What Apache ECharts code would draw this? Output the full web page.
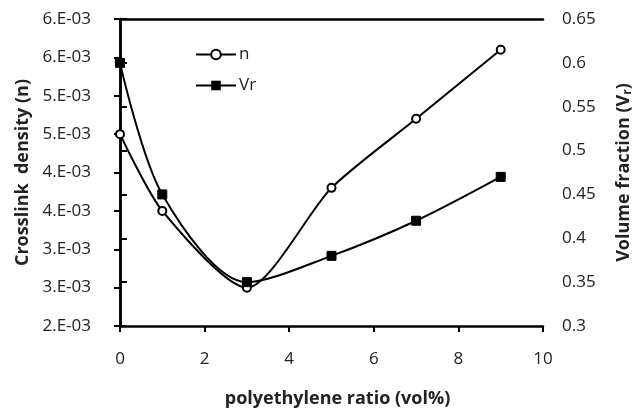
<!DOCTYPE html>
<html>
<head>
<meta charset="utf-8">
<script src="https://cdn.jsdelivr.net/npm/echarts@6/dist/echarts.min.js"></script>
<style>
  html, body { margin: 0; padding: 0; background: #fff; }
  #chart { width: 642px; height: 413px; }
</style>
</head>
<body>
<div id="chart"></div>
<script>
// Polyethylene content (vol%)
const peRatio = [0, 1, 3, 5, 7, 9];
// Crosslink density n (left axis)
const crosslinkDensity = [0.0045, 0.0035, 0.0025, 0.0038, 0.0047, 0.0056];
// Rubber volume fraction Vr (right axis)
const volumeFraction = [0.60, 0.45, 0.35, 0.38, 0.42, 0.47];
// Left axis labels in Excel "0.E+00" style, bottom to top
const densityTickLabels = ['2.E-03', '3.E-03', '3.E-03', '4.E-03', '4.E-03', '5.E-03', '5.E-03', '6.E-03', '6.E-03'];

const FONT = '"Open Sans", "DejaVu Sans", sans-serif';
const INK = '#000';
const TXT = '#222';

const pairs = (xs, ys) => xs.map((x, i) => [x, ys[i]]);

const chart = echarts.init(document.getElementById('chart'), null, { renderer: 'canvas' });

const axisLine = { show: true, lineStyle: { color: INK, width: 2.5 } };

chart.setOption({
  animation: false,
  backgroundColor: '#fff',
  grid: { left: 120, right: 90, top: 19, bottom: 83, containLabel: false },
  legend: {
    orient: 'vertical',
    left: 190,
    top: 41,
    itemWidth: 40,
    itemHeight: 12,
    itemGap: 14,
    textStyle: { fontFamily: FONT, fontSize: 17, color: TXT, padding: [0, 0, 0, -2] },
    data: ['n', 'Vr']
  },
  xAxis: [
    {
      type: 'value',
      min: 0, max: 10, interval: 2,
      position: 'bottom',
      axisLine: axisLine,
      axisTick: { show: true, inside: false, length: 6, lineStyle: { color: INK, width: 2 } },
      axisLabel: { fontFamily: FONT, fontSize: 17, color: TXT, margin: 25 },
      splitLine: { show: false },
      name: 'polyethylene ratio (vol%)',
      nameLocation: 'middle',
      nameGap: 64,
      nameTextStyle: { fontFamily: FONT, fontSize: 18, fontWeight: 'bold', color: TXT, padding: [0, 0, 0, 12] }
    },
    {
      type: 'value',
      min: 0, max: 10,
      position: 'top',
      axisLine: axisLine,
      axisTick: { show: false },
      axisLabel: { show: false },
      splitLine: { show: false }
    }
  ],
  yAxis: [
    {
      type: 'value',
      min: 0.002, max: 0.006, interval: 0.0005,
      position: 'left',
      axisLine: axisLine,
      axisTick: { show: true, inside: false, length: 6, lineStyle: { color: INK, width: 2 } },
      axisLabel: {
        fontFamily: FONT, fontSize: 17, color: TXT, margin: 29,
        formatter: (v, i) => densityTickLabels[i]
      },
      splitLine: { show: false },
      name: 'Crosslink  density (n)',
      nameLocation: 'middle',
      nameRotate: 90,
      nameGap: 87,
      nameTextStyle: { fontFamily: FONT, fontSize: 18, fontWeight: 'bold', color: TXT }
    },
    {
      type: 'value',
      min: 0.3, max: 0.65, interval: 0.05,
      position: 'right',
      axisLine: axisLine,
      axisTick: { show: true, inside: false, length: 7, lineStyle: { color: INK, width: 2 } },
      axisLabel: { fontFamily: FONT, fontSize: 17, color: TXT, margin: 19 },
      splitLine: { show: false },
      name: '{t|Volume fraction (V}{s|r}{t|)}',
      nameLocation: 'middle',
      nameRotate: 90,
      nameGap: 71,
      nameTextStyle: {
        rich: {
          t: { fontFamily: FONT, fontSize: 18, fontWeight: 'bold', color: TXT },
          s: { fontFamily: FONT, fontSize: 12, fontWeight: 'bold', color: TXT, verticalAlign: 'bottom', padding: [8, 0, 0, 0] }
        }
      }
    }
  ],
  series: [
    {
      name: 'n',
      type: 'line',
      xAxisIndex: 0,
      yAxisIndex: 0,
      data: pairs(peRatio, crosslinkDensity),
      smooth: 0.25,
      symbol: 'emptyCircle',
      symbolSize: 8,
      lineStyle: { color: INK, width: 2 },
      itemStyle: { color: INK, borderColor: INK, borderWidth: 1.5 },
      z: 3
    },
    {
      name: 'Vr',
      type: 'line',
      xAxisIndex: 0,
      yAxisIndex: 1,
      data: pairs(peRatio, volumeFraction),
      smooth: 0.3,
      symbol: 'rect',
      symbolSize: 9,
      lineStyle: { color: INK, width: 2 },
      itemStyle: { color: INK, borderColor: INK },
      z: 4
    }
  ]
});
</script>
</body>
</html>
